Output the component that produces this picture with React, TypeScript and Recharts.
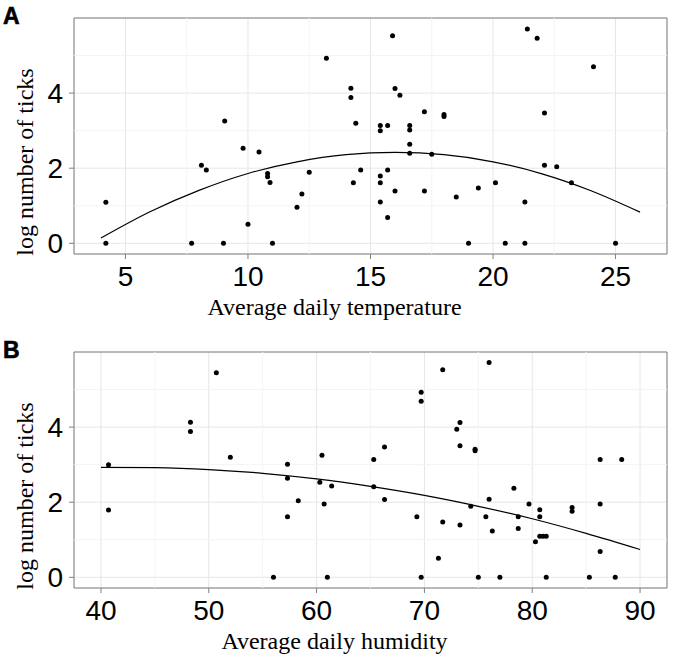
import React from "react";
import {CartesianGrid, ComposedChart, Line, ReferenceArea, ReferenceLine, Scatter, XAxis, YAxis} from "recharts";

// panel A: temperature
const temperature = [
    4.2, 4.2, 7.7, 8.1, 8.3, 9.05, 9.0, 9.8, 10.0, 10.45, 10.8, 10.8, 10.9, 11.0, 12.0, 12.2, 12.5, 13.2, 14.2, 14.2,
    14.4, 14.3, 14.6, 15.4, 15.4, 15.4, 15.4, 15.4, 15.7, 15.7, 15.7, 15.9, 16.0, 16.2, 16.0, 16.6, 16.6, 16.6, 16.6, 17.2,
    17.2, 17.5, 18.0, 18.0, 18.5, 19.0, 19.4, 20.1, 20.5, 21.3, 21.3, 21.4, 21.8, 22.1, 22.1, 22.6, 23.2, 24.1, 25.0
];
const ticksByTemperature = [
    1.09, 0, 0, 2.08, 1.95, 3.26, 0, 2.53, 0.51, 2.43, 1.86, 1.77, 1.62, 0, 0.96, 1.31, 1.89, 4.93, 4.13, 3.88,
    3.20, 1.61, 1.95, 3.14, 3.00, 1.79, 1.61, 1.10, 3.14, 1.95, 0.69, 5.53, 4.12, 3.94, 1.39, 3.14, 3.02, 2.64, 2.40, 3.50,
    1.39, 2.37, 3.43, 3.38, 1.23, 0, 1.47, 1.61, 0, 1.10, 0, 5.71, 5.46, 3.47, 2.08, 2.04, 1.61, 4.70, 0
];
const fitTemperatureX = [4, 6, 8, 10, 12, 14, 16, 18, 20, 22, 24, 26];
const fitTemperatureY = [0.14, 0.84, 1.41, 1.86, 2.17, 2.36, 2.42, 2.36, 2.17, 1.85, 1.40, 0.83];

// panel B: humidity
const humidity = [
    40.7, 40.7, 48.3, 48.3, 50.7, 52.0, 56.0, 57.3, 57.3, 57.3, 58.3, 60.3, 60.5, 60.7, 61.0, 61.4, 65.3, 65.3, 66.3, 66.3,
    69.3, 69.7, 69.7, 69.7, 71.3, 71.7, 71.7, 73.0, 73.3, 73.3, 73.3, 74.3, 74.7, 74.7, 75.0, 75.7, 76.0, 76.0, 76.3, 77.0,
    78.3, 78.7, 78.7, 79.7, 80.3, 80.7, 80.7, 80.7, 81.0, 81.3, 81.3, 83.7, 83.7, 85.3, 86.3, 86.3, 86.3, 87.7, 88.3
];
const ticksByHumidity = [
    3.00, 1.79, 4.13, 3.88, 5.45, 3.20, 0, 3.01, 2.64, 1.61, 2.04, 2.53, 3.25, 1.95, 0, 2.43, 3.14, 2.41, 3.47, 2.07,
    1.61, 4.93, 4.69, 0, 0.51, 5.53, 1.47, 3.94, 4.12, 3.50, 1.39, 1.89, 3.41, 3.37, 0, 1.61, 5.72, 2.08, 1.23, 0,
    2.37, 1.61, 1.30, 1.95, 0.95, 1.80, 1.61, 1.09, 1.09, 1.09, 0, 1.86, 1.76, 0, 3.14, 1.95, 0.69, 0, 3.14
];
const fitHumidityX = [40, 45, 50, 55, 60, 65, 70, 75, 80, 85, 90];
const fitHumidityY = [2.93, 2.92, 2.87, 2.77, 2.62, 2.42, 2.18, 1.89, 1.56, 1.17, 0.74];

const yTicks = [0, 2, 4];
const yMinor = [1, 3, 5];
const yDomain = [-0.285, 6.0];

const tempTicks = [5, 10, 15, 20, 25];
const tempMinor = [7.5, 12.5, 17.5, 22.5];
const humTicks = [40, 50, 60, 70, 80, 90];
const humMinor = [45, 55, 65, 75, 85];

const TICK_FONT = "'Liberation Sans', Arial, Helvetica, sans-serif";
const TITLE_FONT = "'Liberation Serif', 'Times New Roman', serif";

const zip = (xs: number[], ys: number[]) => xs.map((x, i) => ({x, y: ys[i]}));

const Dot = (props: any) => <circle cx={props.cx} cy={props.cy} r={2.5} fill="#000"/>;

const XTitle = (props: any) => {
    const vb = props.viewBox;
    return (
        <text x={vb.x + vb.width / 2 - 36} y={vb.y + 61}
              textAnchor="middle" fontFamily={TITLE_FONT} fontSize={24} fill="#000">
            {props.text}
        </text>
    );
};

const YTitle = (props: any) => {
    const vb = props.viewBox;
    const cy = vb.y + vb.height / 2 + 26;
    return (
        <g>
            <text x={3} y={vb.y + 6} fontFamily={TICK_FONT} fontWeight="bold" fontSize={23} fill="#000"
                  stroke="#000" strokeWidth={0.6}>
                {props.letter}
            </text>
            <text transform={`translate(33,${cy}) rotate(-90)`} textAnchor="middle"
                  fontFamily={TITLE_FONT} fontSize={24} fill="#000">
                log number of ticks
            </text>
        </g>
    );
};

interface PanelProps {
    points: {x: number; y: number}[];
    curve: {x: number; y: number}[];
    xDomain: number[];
    xTicks: number[];
    xMinor: number[];
    xTitle: string;
    letter: string;
    top: number;
}

const Panel: React.FC<PanelProps> = ({points, curve, xDomain, xTicks, xMinor, xTitle, letter, top}) => {
    const tick = {fill: "#000", fontSize: 28, fontFamily: TICK_FONT};
    return (
        <div style={{position: "absolute", left: 0, top}}>
            <ComposedChart width={685} height={333} margin={{top: 18, right: 18, bottom: 0, left: 0}}>
                <CartesianGrid stroke="#e6e6e6" strokeWidth={1}/>
                {xMinor.map(v => <ReferenceLine key={"x" + v} x={v} stroke="#f4f4f4" strokeWidth={1}/>)}
                {yMinor.map(v => <ReferenceLine key={"y" + v} y={v} stroke="#f4f4f4" strokeWidth={1}/>)}
                <XAxis type="number" dataKey="x" domain={xDomain} ticks={xTicks} allowDataOverflow
                       axisLine={false} tickLine={{stroke: "#7f7f7f"}} tickSize={5} tickMargin={7}
                       height={79} tick={tick}
                       label={<XTitle text={xTitle}/>}
                />
                <YAxis type="number" dataKey="y" domain={yDomain} ticks={yTicks} allowDataOverflow
                       axisLine={false} tickLine={{stroke: "#7f7f7f"}} tickSize={5} tickMargin={6}
                       width={74} tick={tick}
                       label={<YTitle letter={letter}/>}
                />
                <ReferenceArea x1={xDomain[0]} x2={xDomain[1]} y1={yDomain[0]} y2={yDomain[1]}
                               fill="none" stroke="#7f7f7f" strokeWidth={1}/>
                <Scatter data={points} dataKey="y" shape={Dot} isAnimationActive={false}/>
                <Line data={curve} dataKey="y" type="monotone" stroke="#000" strokeWidth={1.2}
                      dot={false} activeDot={false} isAnimationActive={false}/>
            </ComposedChart>
        </div>
    );
};

export default function App() {
    return (
        <div style={{position: "absolute", left: 0, top: 0, width: 685, height: 667, background: "#fff"}}>
            <Panel points={zip(temperature, ticksByTemperature)}
                   curve={zip(fitTemperatureX, fitTemperatureY)}
                   xDomain={[2.9, 27.1]} xTicks={tempTicks} xMinor={tempMinor}
                   xTitle="Average daily temperature" letter="A" top={0}/>
            <Panel points={zip(humidity, ticksByHumidity)}
                   curve={zip(fitHumidityX, fitHumidityY)}
                   xDomain={[37.5, 92.5]} xTicks={humTicks} xMinor={humMinor}
                   xTitle="Average daily humidity" letter="B" top={334}/>
        </div>
    );
}
